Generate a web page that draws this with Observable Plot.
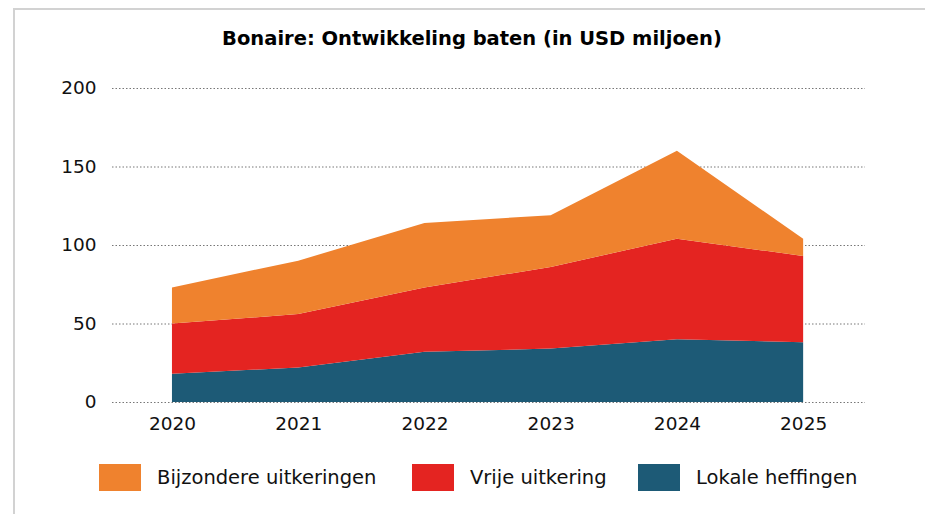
<!DOCTYPE html>
<html>
<head>
<meta charset="utf-8">
<script src="https://cdn.jsdelivr.net/npm/d3@7"></script>
<script src="https://cdn.jsdelivr.net/npm/@observablehq/plot@0.6"></script>
<style>
  html, body { margin: 0; padding: 0; background: #fff; }
  body { width: 925px; height: 514px; position: relative; overflow: hidden; font-family: Verdana, "DejaVu Sans", sans-serif; }
  #frame { position: absolute; left: 13px; top: 8px; width: 940px; height: 540px; border-top: 2px solid #d2d2d2; border-left: 2px solid #d2d2d2; box-sizing: border-box; }
  #title { position: absolute; left: 0; width: 944px; top: 27px; text-align: center; font-weight: bold; font-size: 19.5px; color: #000; }
  #chart { position: absolute; left: 0; top: 0; }
  #legend { position: absolute; top: 463px; left: 0; width: 925px; height: 30px; }
  .item { position: absolute; top: 0; height: 28px; display: flex; align-items: center; font-size: 19.5px; color: #111; }
  .sw { width: 42px; height: 27px; margin-right: 16px; }
</style>
</head>
<body>
<div id="frame"></div>
<div id="title">Bonaire: Ontwikkeling baten (in USD miljoen)</div>
<div id="chart"></div>
<div id="legend"></div>
<script>
const years = [2020, 2021, 2022, 2023, 2024, 2025];
const seriesNames = ["Lokale heffingen", "Vrije uitkering", "Bijzondere uitkeringen"];
const lokaleHeffingen = [18, 22, 32, 34, 40, 38];
const vrijeUitkering = [32, 34, 41, 52, 64, 55];
const bijzondereUitkeringen = [23, 34, 41, 33, 56, 11];
const colors = ["#1D5A76", "#E42421", "#EF822E"];
const yTicks = [0, 50, 100, 150, 200];
const legendOrder = ["Bijzondere uitkeringen", "Vrije uitkering", "Lokale heffingen"];
const legendLeft = [99, 412, 638];

const valuesBySeries = [lokaleHeffingen, vrijeUitkering, bijzondereUitkeringen];
const data = [];
seriesNames.forEach((s, i) => years.forEach((y, j) => data.push({year: y, series: s, value: valuesBySeries[i][j]})));

const chart = Plot.plot({
  width: 925,
  height: 450,
  marginTop: 88,
  marginBottom: 48,
  marginLeft: 112,
  marginRight: 60,
  style: {fontFamily: "Verdana, 'DejaVu Sans', sans-serif", fontSize: "18.5px", color: "#111", background: "transparent", overflow: "visible"},
  x: {domain: [2019.525, 2025.49], ticks: years, tickFormat: d => String(d), tickSize: 0, tickPadding: 14, label: null},
  y: {domain: [0, 200], ticks: yTicks, tickSize: 0, tickPadding: 16, label: null},
  color: {domain: seriesNames, range: colors},
  marks: [
    Plot.ruleY(yTicks, {stroke: "#777", strokeDasharray: "1.5,2", strokeWidth: 1}),
    Plot.areaY(data, {x: "year", y: "value", z: "series", fill: "series", order: seriesNames}),
    Plot.axisX({ticks: years, tickFormat: d => String(d), tickSize: 0, tickPadding: 14, fontSize: 18.5}),
    Plot.axisY({ticks: yTicks, tickSize: 0, tickPadding: 16, fontSize: 18.5})
  ]
});
document.getElementById("chart").appendChild(chart);

const legend = document.getElementById("legend");
legendOrder.forEach((name, i) => {
  const item = document.createElement("div");
  item.className = "item";
  item.style.left = legendLeft[i] + "px";
  const sw = document.createElement("div");
  sw.className = "sw";
  sw.style.background = colors[seriesNames.indexOf(name)];
  const label = document.createElement("span");
  label.textContent = name;
  item.appendChild(sw);
  item.appendChild(label);
  legend.appendChild(item);
});
</script>
</body>
</html>
